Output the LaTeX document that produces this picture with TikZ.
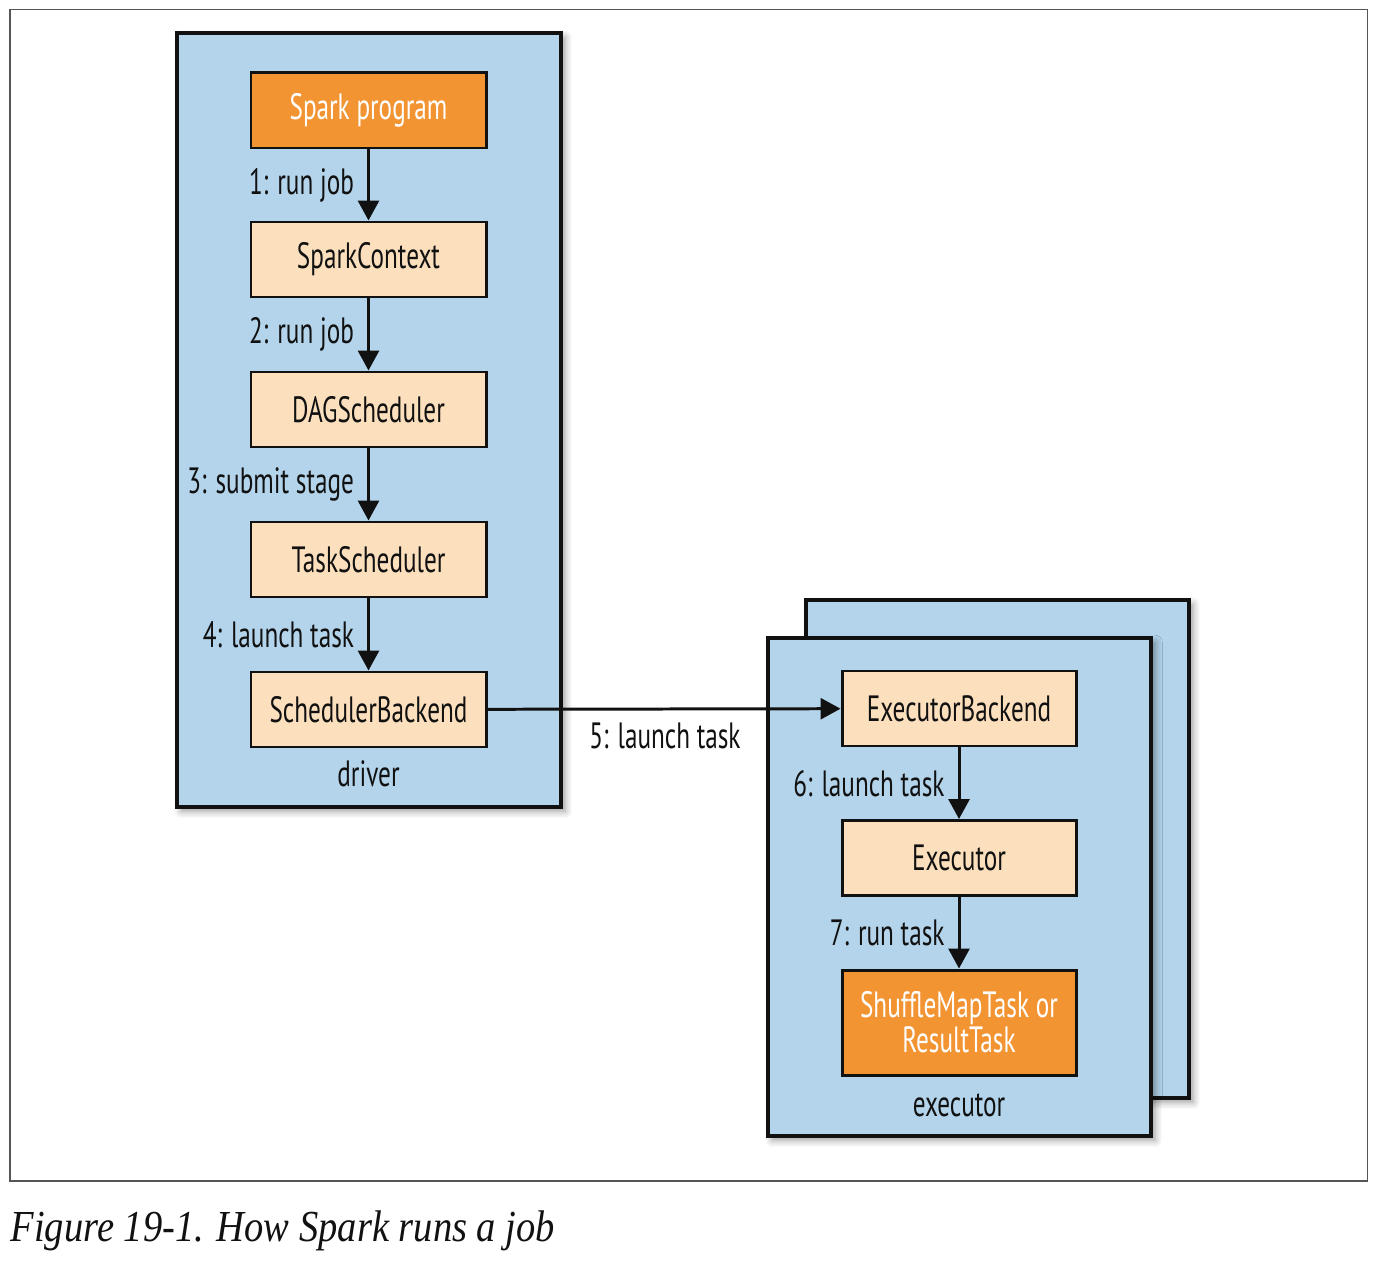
\documentclass[tikz,border=0pt]{standalone}
\usepackage{fontspec}
\setmainfont[FakeStretch=0.69]{PT Sans}
\newfontfamily\captionfont[FakeStretch=0.87]{Liberation Serif}
\usepackage{tikz}
\usetikzlibrary{arrows.meta,positioning,shadows.blur}
\definecolor{ink}{HTML}{111111}
\definecolor{framegray}{HTML}{555555}
\definecolor{paneblue}{HTML}{B3D4EB}
\definecolor{sparkorange}{HTML}{F39433}
\definecolor{peach}{HTML}{FCDFBD}
\tikzset{
  arr/.style={-{Triangle[length=2mm,width=2.1mm]}, line width=0.85pt, draw=ink},
  figbase/.style={
    font=\fontsize{10.4}{12}\selectfont,
    color=ink,
    line join=miter,
  },
  pane/.style={
    draw=ink, line width=0.95pt, fill=paneblue,
    blur shadow={shadow xshift=1.2pt, shadow yshift=-1.2pt, shadow blur steps=6, shadow blur radius=2pt},
  },
  box/.style={
    draw=ink, line width=0.85pt,
    minimum width=2.35cm, minimum height=0.75cm,
    inner sep=2pt, align=center, text=ink,
  },
  boxpeach/.style={box, fill=peach},
  boxorange/.style={box, fill=sparkorange, text=white},
  lab/.style={inner sep=0pt, text=ink},
}
\begin{document}
\begin{tikzpicture}[figbase]
  \useasboundingbox (0,0) rectangle (13.8,-12.62);
  \draw[framegray, line width=0.45pt] (0.10,-0.095) rectangle (13.675,-11.81);

  % driver side
  \draw[pane] (1.77,-0.33) rectangle (5.61,-8.07);
  \node[boxorange] (prog) at (3.685,-1.105) {Spark program};
  \node[boxpeach] (sc) at (3.685,-2.595) {SparkContext};
  \node[boxpeach] (dag) at (3.685,-4.095) {DAGScheduler};
  \node[boxpeach] (ts) at (3.685,-5.595) {TaskScheduler};
  \node[boxpeach] (sb) at (3.685,-7.095) {SchedulerBackend};
  \node[lab] (drv) at (3.685,-7.74) {driver};

  \draw[arr] (prog) -- node[lab, left=1.3mm] (l1) {1: run job} (sc);
  \draw[arr] (sc) -- node[lab, left=1.3mm] (l2) {2: run job} (dag);
  \draw[arr] (dag) -- node[lab, left=1.3mm] (l3) {3: submit stage} (ts);
  \draw[arr] (ts) -- node[lab, left=1.3mm] (l4) {4: launch task} (sb);

  % executor side
  \draw[pane] (8.06,-6.00) rectangle (11.89,-10.98);
  \draw[pane] (7.68,-6.38) rectangle (11.51,-11.36);
  \node[boxpeach, minimum width=2.34cm] (eb) at (9.59,-7.085) {ExecutorBackend};
  \node[boxpeach, minimum width=2.34cm] (ex) at (9.59,-8.58) {Executor};
  \node[boxorange, minimum width=2.34cm, minimum height=1.05cm] (task) at (9.59,-10.225)
    {ShuffleMapTask or\\[-2pt]ResultTask};
  \node[lab] (exl) at (9.59,-11.05) {executor};

  \draw[arr] (eb) -- node[lab, left=1.3mm] (l6) {6: launch task} (ex);
  \draw[arr] (ex) -- node[lab, left=1.3mm] (l7) {7: run task} (task);

  \draw[arr] (sb) -- (eb);
  \node[lab] (l5) at (6.65,-7.36) {5: launch task};

  \node[lab, anchor=west, font=\captionfont\itshape\fontsize{12.6}{15}\selectfont] (cap)
    at (0.10,-12.31) {Figure 19-1. How Spark runs a job};
\end{tikzpicture}
\end{document}
